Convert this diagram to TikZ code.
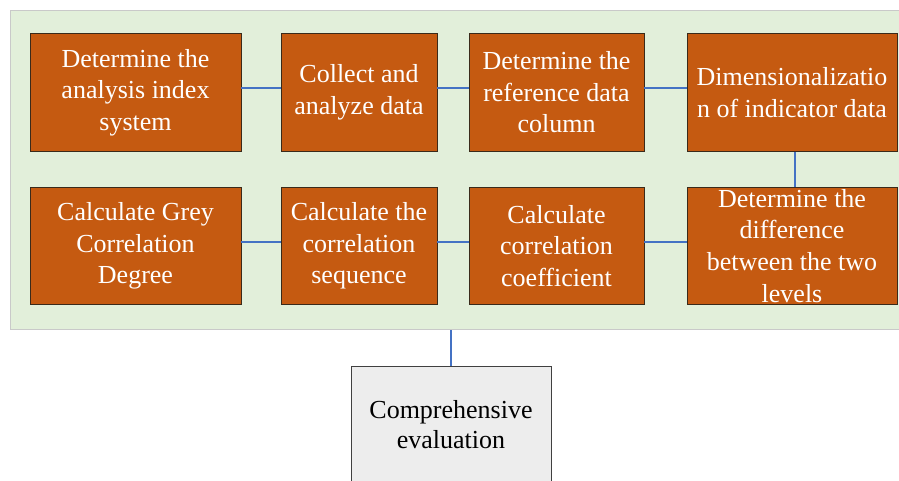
\documentclass[tikz,border=0pt]{standalone}
\usepackage{fontspec}
\setmainfont{Liberation Serif}
\newfontfamily\boxfont{Liberation Serif}
\definecolor{panelgreen}{HTML}{E2EFDA}
\definecolor{panelborder}{HTML}{C9C9C9}
\definecolor{boxorange}{HTML}{C55A11}
\definecolor{boxedge}{HTML}{3A2A1A}
\definecolor{linkblue}{HTML}{4472C4}
\definecolor{evalgray}{HTML}{EDEDED}
\tikzset{
  stepbox/.style={draw=boxedge, line width=0.8pt, fill=boxorange, text=white, align=center,
    minimum height=117.5pt, inner sep=0pt, font=\boxfont\fontsize{26}{31.6}\selectfont},
  evalbox/.style={draw=black!75, line width=0.8pt, fill=evalgray, text=black, align=center,
    minimum width=200pt, minimum height=118pt, inner sep=0pt, font=\boxfont\fontsize{26}{30}\selectfont},
  link/.style={draw=linkblue, line width=1.2pt}
}
\begin{document}
\begin{tikzpicture}[x=1pt,y=-1pt]
\useasboundingbox (0,0) rectangle (899,480);
\clip (0,0) rectangle (899,480);
\node[draw=panelborder, line width=1pt, fill=panelgreen, minimum width=900pt, minimum height=319pt, inner sep=0pt, anchor=north west] (panel) at (10,10) {};
% top row
\node[stepbox, minimum width=211pt] (b1) at (135.5,92.5) {Determine the\\analysis index\\system};
\node[stepbox, minimum width=156pt] (b2) at (359,92.5) {Collect and\\analyze data};
\node[stepbox, minimum width=175pt] (b3) at (556.5,92.5) {Determine the\\reference data\\column};
\node[stepbox, minimum width=210pt] (b4) at (792,92.5) {Dimensionalizatio\\n of indicator data};
% bottom row
\node[stepbox, minimum width=211pt] (b5) at (135.5,245.8) {Calculate Grey\\Correlation\\Degree};
\node[stepbox, minimum width=156pt] (b6) at (359,245.8) {Calculate the\\correlation\\sequence};
\node[stepbox, minimum width=175pt] (b7) at (556.5,245.8) {Calculate\\correlation\\coefficient};
\node[stepbox, minimum width=210pt] (b8) at (792,245.8) {Determine the\\difference\\between the two\\levels};
% evaluation
\node[evalbox] (ev) at (451,425) {Comprehensive\\evaluation};
% connectors
\draw[link] ([yshift=4.5pt]b1.east) -- ([yshift=4.5pt]b2.west);
\draw[link] ([yshift=4.5pt]b2.east) -- ([yshift=4.5pt]b3.west);
\draw[link] ([yshift=4.5pt]b3.east) -- ([yshift=4.5pt]b4.west);
\draw[link] ([xshift=3pt]b4.south) -- ([xshift=3pt]b8.north);
\draw[link] ([yshift=3.8pt]b7.east) -- ([yshift=3.8pt]b8.west);
\draw[link] ([yshift=3.8pt]b6.east) -- ([yshift=3.8pt]b7.west);
\draw[link] ([yshift=3.8pt]b5.east) -- ([yshift=3.8pt]b6.west);
\draw[link] (panel.south -| ev.north) -- (ev.north);
\end{tikzpicture}
\end{document}
